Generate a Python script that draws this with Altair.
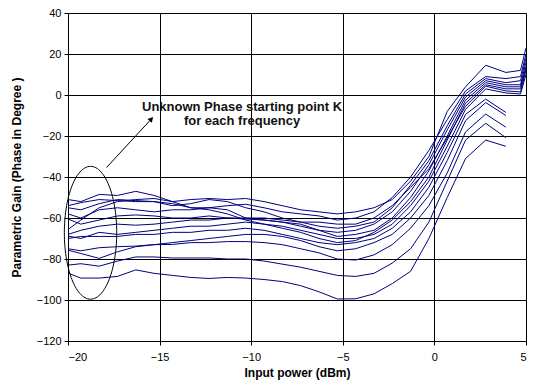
import altair as alt
import pandas as pd
import numpy as np

# x positions (input power, dBm)
input_power = [-20, -19.3, -18.3, -17.3, -16.3, -15.3, -14.3, -13.3, -12.3, -11.3,
               -10.3, -9.3, -8.3, -7.3, -6.3, -5.3, -4.3, -3.3, -2.3, -1.3,
               -0.3, 0.7, 1.7, 2.8, 3.9, 4.7, 5.0]

# phase curves (degrees), one per frequency
f01 = [-51, -52, -48.5, -49, -47, -49, -52, -51, -50.5, -51, -50.5, -52, -54, -56, -57, -58, -57,
       -55, -51, -42, -30, -8, 4, 14.5, 11, 12, 23]
f02 = [-54, -52.5, -51, -51.5, -52, -52, -53, -55, -55, -54, -53.3, -55, -57, -58, -59, -61, -60,
       -57, -50, -40, -27, -12, 2, 9, 8, 9, 20]
f03 = [-55, -56, -53, -51, -51.5, -52, -54, -53, -51, -52, -55, -57, -60, -62, -64, -65, -64,
       -62, -55, -44, -32, -15, 0.5, 8, 6, 7, 18]
f04 = [-58, -60, -56, -55, -56, -57, -56, -56, -55, -56, -60, -61, -62, -64, -66, -67, -66,
       -63, -57, -47, -34, -17, -1, 7, 5, 5, 16]
f05 = [-60.5, -63, -61, -59, -58.5, -59, -60, -60, -59, -60, -60.5, -61, -62, -63, -66, -69, -68,
       -66, -60, -50, -37, -20, -2.5, 6, 4, 4, 14]
f06 = [-65.6, -61, -55, -52, -51, -50.5, -52, -55, -56, -58, -61, -63, -65, -67, -70, -72, -71,
       -67, -61, -52, -40, -22, -4, 5, 3, 3, 13]
f07 = [-68, -66, -64, -63, -63.5, -63, -62, -61, -61, -60, -60, -60, -61, -62, -62, -63, -63,
       -60, -54, -45, -36, -21, -5.5, 4.3, 2, 1.5, 12]
f08 = [-68.8, -70, -67, -68, -67, -66, -65, -64, -64, -63, -62, -63, -64, -66, -68, -70, -70,
       -68, -63, -54, -42, -25, -7, 3, 1, 0.5, 10]
f09 = [-70, -69, -69, -69, -68, -68, -67, -67, -66, -66, -65, -66, -68, -70, -72, -73, -72,
       -70, -65, -57, -45, -28, -9.5, -2, -8.5]
f10 = [-75.7, -77.3, -79.7, -76.5, -74, -73, -72, -71, -70, -69, -68, -68, -69, -71, -74, -76, -75,
       -72, -68, -60, -49, -32, -12.5, -3.7, -10]
f11 = [-75, -76, -74.5, -74, -73.7, -73, -72.9, -72, -72, -71.5, -71.5, -72, -73, -75, -77, -80, -80.5,
       -78, -73, -65, -54, -38, -18, -9.3, -15.7]
f12 = [-83, -82.3, -83.5, -81, -79, -79, -79.5, -79.5, -79.5, -80, -80, -81, -82.5, -84, -86, -88, -88.5,
       -87, -82, -75, -62, -42, -22, -13.8, -20.8]
f13 = [-86.9, -89.3, -89.3, -88.5, -85.3, -87, -88, -89, -89.5, -89, -89.3, -90, -91, -93, -96, -99.5, -99.4,
       -97, -92, -86, -70, -50, -31, -22, -25]

series = [f01, f02, f03, f04, f05, f06, f07, f08, f09, f10, f11, f12, f13]

# annotation
note_lines = ["Unknown Phase starting point K", "for each frequency"]
note_x = -10.5
note_y = [-5.8, -12.8]
arrow_from = (-17.9, -35.4)
arrow_to = (-15.45, -11.7)
ell_cx, ell_cy, ell_rx, ell_ry = -18.77, -67.2, 1.43, 32.4

rows = []
for i, s in enumerate(series):
    for xv, yv in zip(input_power, s):
        rows.append({"x": xv, "y": yv, "s": f"f{i+1:02d}"})
df = pd.DataFrame(rows)

FONT = "Liberation Sans"

xs = alt.Scale(domain=[-20, 5], nice=False)
ys = alt.Scale(domain=[-120, 40], nice=False)

lines = alt.Chart(df).mark_line(color="#000080", strokeWidth=1, clip=True).encode(
    x=alt.X("x:Q", scale=xs, axis=alt.Axis(
        values=[-20, -15, -10, -5, 0, 5], format="d", title="Input power (dBm)",
        grid=True, gridColor="black", gridOpacity=1, domainColor="black", tickColor="black",
        tickSize=4, labelPadding=6, labelFont=FONT, labelFontSize=11, labelColor="black",
        titleFont=FONT, titleFontSize=12, titleFontWeight="bold", titleColor="black",
        titleY=31, titleBaseline="middle")),
    y=alt.Y("y:Q", scale=ys, axis=alt.Axis(
        values=list(range(-120, 41, 20)), format="d", title="Parametric Gain (Phase in Degree )",
        grid=True, gridColor="black", gridOpacity=1, domainColor="black", tickColor="black",
        tickSize=4, labelPadding=3, labelFont=FONT, labelFontSize=11, labelColor="black",
        titleFont=FONT, titleFontSize=12, titleFontWeight="bold", titleColor="black",
        titleX=-52, titleBaseline="middle", titleAngle=270)),
    detail="s:N",
    order="x:Q",
)

theta = np.linspace(0, 2 * np.pi, 121)
ell_df = pd.DataFrame({"x": ell_cx + ell_rx * np.cos(theta),
                       "y": ell_cy + ell_ry * np.sin(theta),
                       "o": np.arange(121)})
ellipse = alt.Chart(ell_df).mark_line(color="black", strokeWidth=1).encode(
    x=alt.X("x:Q", scale=xs), y=alt.Y("y:Q", scale=ys), order="o:Q")

arr_df = pd.DataFrame({"x": [arrow_from[0]], "y": [arrow_from[1]],
                       "x2": [arrow_to[0]], "y2": [arrow_to[1]]})
arrow = alt.Chart(arr_df).mark_rule(color="black", strokeWidth=1).encode(
    x=alt.X("x:Q", scale=xs), y=alt.Y("y:Q", scale=ys), x2="x2:Q", y2="y2:Q")
head = alt.Chart(arr_df).mark_point(shape="triangle-up", filled=True, size=35, angle=42,
                                    color="black", opacity=1).encode(
    x=alt.X("x2:Q", scale=xs), y=alt.Y("y2:Q", scale=ys))

txt_df = pd.DataFrame({"x": [note_x, note_x], "y": note_y, "t": note_lines})
text = alt.Chart(txt_df).mark_text(font=FONT, fontSize=13, fontWeight="bold", color="#111",
                                   align="center", baseline="middle").encode(
    x=alt.X("x:Q", scale=xs), y=alt.Y("y:Q", scale=ys), text="t:N")

chart = alt.layer(lines, ellipse, arrow, head, text).properties(
    width=458, height=328,
    autosize=alt.AutoSizeParams(type="none"),
    padding={"left": 60, "top": 5, "right": 3, "bottom": 41},
).configure_view(stroke="black", strokeWidth=1).configure(background="white")

chart.save("out.html", embed_options={"renderer": "svg", "actions": False})
